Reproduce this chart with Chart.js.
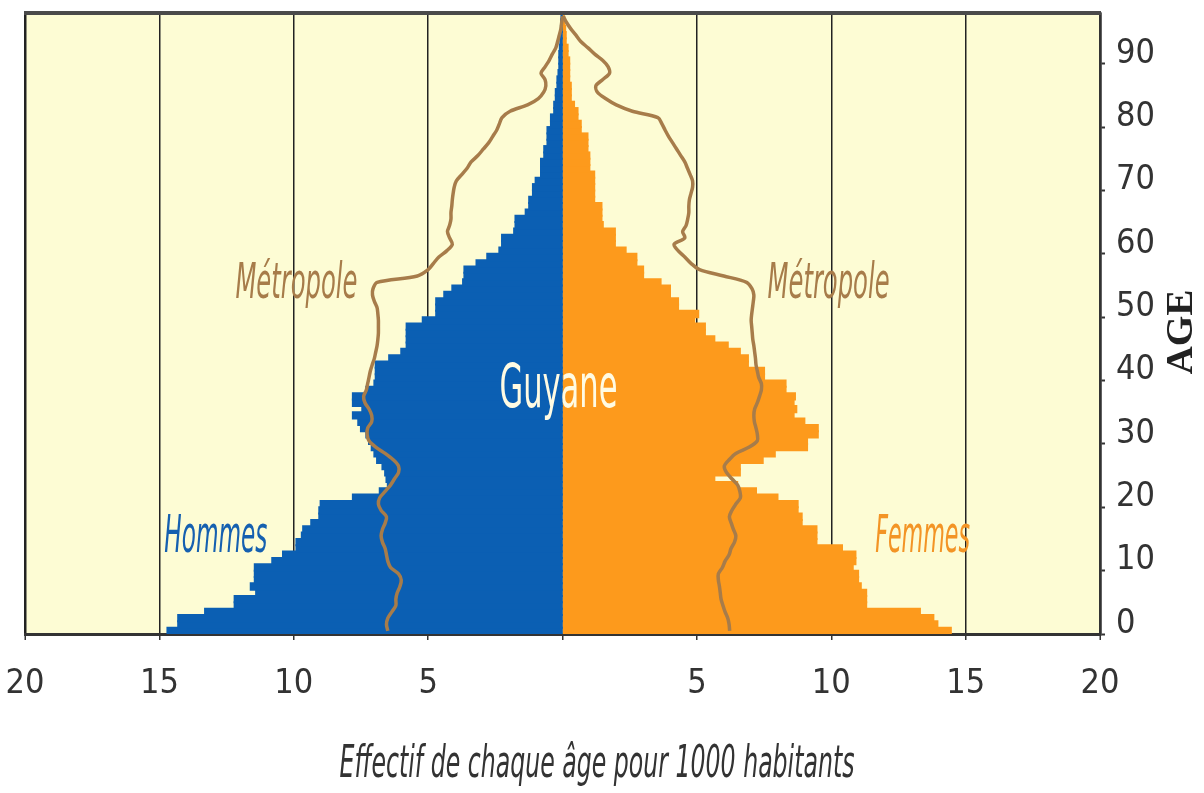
<!DOCTYPE html>
<html lang="fr">
<head>
<meta charset="utf-8">
<title>Pyramide des âges – Guyane et Métropole</title>
<script src="https://cdn.jsdelivr.net/npm/chart.js@4.4.1/dist/chart.umd.min.js"></script>
<style>
  html, body { margin: 0; padding: 0; background: #ffffff; }
  #wrap { width: 1204px; height: 793px; }
</style>
</head>
<body>
<div id="wrap"><canvas id="pyramide" width="1204" height="793"></canvas></div>
<script>
// Âges (une barre par année)
const ages = [
  0, 1, 2, 3, 4, 5, 6, 7, 8, 9, 10, 11, 12, 13, 14, 15, 16, 17, 18, 19,
  20, 21, 22, 23, 24, 25, 26, 27, 28, 29, 30, 31, 32, 33, 34, 35, 36, 37, 38, 39,
  40, 41, 42, 43, 44, 45, 46, 47, 48, 49, 50, 51, 52, 53, 54, 55, 56, 57, 58, 59,
  60, 61, 62, 63, 64, 65, 66, 67, 68, 69, 70, 71, 72, 73, 74, 75, 76, 77, 78, 79,
  80, 81, 82, 83, 84, 85, 86, 87, 88, 89, 90, 91, 92, 93, 94, 95, 96, 97
];

// Guyane : effectif de chaque âge pour 1000 habitants
const guyaneHommes = [
  14.7, 14.3, 14.3, 13.3, 12.2, 12.2, 11.4, 11.6, 11.45, 11.45,
  11.45, 10.8, 10.4, 9.9, 9.9, 9.7, 9.65, 9.35, 9.05, 9.05,
  9.0, 7.8, 6.8, 6.5, 6.55, 6.6, 6.7, 6.9, 7.0, 7.1,
  7.2, 7.3, 7.5, 7.6, 7.8, 7.45, 7.8, 7.8, 7.3, 7.0,
  6.95, 6.95, 6.95, 6.45, 6.0, 5.8, 5.8, 5.8, 5.8, 5.2,
  4.7, 4.7, 4.7, 4.4, 4.1, 3.7, 3.65, 3.65, 3.2, 2.8,
  2.35, 2.25, 2.25, 1.8, 1.75, 1.75, 1.37, 1.24, 1.24, 1.1,
  1.1, 1.0, 0.8, 0.8, 0.8, 0.68, 0.68, 0.56, 0.56, 0.56,
  0.43, 0.43, 0.31, 0.31, 0.25, 0.25, 0.19, 0.19, 0.15, 0.12,
  0.12, 0.12, 0.1, 0.08, 0.06, 0.06, 0.05, 0.04
];
const guyaneFemmes = [
  14.45, 13.95, 13.8, 13.3, 11.3, 11.3, 11.3, 11.1, 11.0, 11.0,
  10.8, 10.9, 10.9, 10.4, 9.45, 9.45, 9.45, 8.9, 8.9, 8.75,
  8.75, 8.0, 7.2, 6.5, 5.65, 6.6, 6.6, 7.45, 7.9, 9.1,
  9.1, 9.5, 9.5, 9.0, 8.6, 8.7, 8.6, 8.65, 8.3, 8.3,
  7.5, 7.5, 6.9, 6.9, 6.6, 6.15, 5.65, 5.3, 5.3, 4.9,
  5.05, 4.3, 4.3, 4.0, 4.0, 3.65, 3.0, 3.0, 2.75, 2.75,
  2.35, 1.95, 1.95, 1.95, 1.5, 1.45, 1.45, 1.45, 1.18, 1.18,
  1.18, 1.18, 1.18, 1.0, 1.0, 1.0, 0.93, 0.93, 0.93, 0.68,
  0.68, 0.56, 0.56, 0.43, 0.31, 0.31, 0.31, 0.25, 0.25, 0.25,
  0.25, 0.19, 0.19, 0.12, 0.12, 0.1, 0.06, 0.04
];

// Métropole : profil de comparaison (trait brun)
const metroHommes = [
  6.5, 6.55, 6.5, 6.35, 6.2, 6.2, 6.15, 6.05, 6.0, 6.1,
  6.4, 6.5, 6.55, 6.6, 6.7, 6.75, 6.7, 6.6, 6.55, 6.75,
  6.85, 6.8, 6.6, 6.4, 6.25, 6.1, 6.1, 6.3, 6.6, 6.95,
  7.2, 7.27, 7.25, 7.1, 7.1, 7.2, 7.35, 7.4, 7.3, 7.25,
  7.2, 7.15, 7.08, 7.0, 6.95, 6.9, 6.87, 6.85, 6.85, 6.85,
  6.87, 6.9, 7.0, 7.07, 7.05, 6.9, 5.4, 5.0, 4.8, 4.6,
  4.3, 4.1, 4.2, 4.28, 4.2, 4.15, 4.15, 4.12, 4.1, 4.07,
  4.03, 3.95, 3.75, 3.55, 3.4, 3.15, 2.95, 2.75, 2.6, 2.45,
  2.35, 2.25, 1.95, 1.3, 0.9, 0.7, 0.62, 0.65, 0.8, 0.65,
  0.5, 0.38, 0.25, 0.18, 0.12, 0.06, 0.03, 0
];
const metroFemmes = [
  6.22, 6.2, 6.15, 6.05, 5.97, 5.9, 5.87, 5.84, 5.8, 5.8,
  5.95, 6.05, 6.2, 6.27, 6.4, 6.45, 6.36, 6.28, 6.21, 6.3,
  6.45, 6.62, 6.6, 6.52, 6.3, 6.1, 6.02, 6.2, 6.45, 6.95,
  7.25, 7.25, 7.2, 7.14, 7.12, 7.15, 7.25, 7.33, 7.4, 7.4,
  7.3, 7.25, 7.2, 7.18, 7.15, 7.12, 7.08, 7.06, 7.04, 7.02,
  7.04, 7.07, 7.1, 7.12, 7.05, 6.85, 6.0, 5.1, 4.78, 4.55,
  4.3, 4.15, 4.55, 4.47, 4.6, 4.66, 4.7, 4.7, 4.72, 4.78,
  4.84, 4.84, 4.75, 4.65, 4.55, 4.4, 4.25, 4.1, 3.95, 3.82,
  3.7, 3.55, 2.6, 2.0, 1.6, 1.3, 1.24, 1.5, 1.75, 1.7,
  1.5, 1.2, 0.95, 0.68, 0.5, 0.31, 0.15, 0.03
];

// Graduations
const xTicks = [-20, -15, -10, -5, 0, 5, 10, 15, 20];
const xTickLabels = ["20", "15", "10", "5", "", "5", "10", "15", "20"];
const ageTicks = [0, 10, 20, 30, 40, 50, 60, 70, 80, 90];

const BLEU = "#0b5fb3";
const ORANGE = "#fd9a1c";
const BRUN = "#a77c4a";
const NARROW = '"Liberation Sans Narrow", "DejaVu Sans Condensed", "Open Sans", sans-serif';

// texte compressé horizontalement pour approcher la police condensée d'origine
function drawFitText(ctx, text, x, y, width, font, color, angle) {
  ctx.save();
  ctx.font = font;
  const w = ctx.measureText(text).width;
  ctx.translate(x, y);
  if (angle) ctx.rotate(angle);
  ctx.scale(width / w, 1);
  ctx.textAlign = "center";
  ctx.textBaseline = "alphabetic";
  ctx.fillStyle = color;
  ctx.fillText(text, 0, 0);
  ctx.restore();
}

const decor = {
  id: "decor",
  beforeDraw(chart) {
    const { ctx, chartArea: a } = chart;
    ctx.save();
    ctx.fillStyle = "#ffffff";
    ctx.fillRect(0, 0, chart.width, chart.height);
    ctx.fillStyle = "#fdfcd4";
    ctx.fillRect(a.left, a.top, a.right - a.left, a.bottom - a.top);
    ctx.restore();
  },
  afterDatasetsDraw(chart) {
    const { ctx, chartArea: a } = chart;
    const sx = chart.scales.x;
    const sy = chart.scales.yAge;

    // cadre supérieur
    ctx.save();
    ctx.strokeStyle = "#4a4a4a";
    ctx.lineWidth = 4;
    ctx.beginPath();
    ctx.moveTo(a.left - 1, a.top);
    ctx.lineTo(a.right + 1, a.top);
    ctx.stroke();
    ctx.restore();

    drawFitText(ctx, "Guyane", sx.getPixelForValue(-0.15), sy.getPixelForValue(35.8), 118,
      "60px " + NARROW, "#fffbe3");
    drawFitText(ctx, "Métropole", sx.getPixelForValue(-9.9), sy.getPixelForValue(53.0), 122,
      "italic 50px " + NARROW, BRUN);
    drawFitText(ctx, "Métropole", sx.getPixelForValue(9.9), sy.getPixelForValue(53.0), 122,
      "italic 50px " + NARROW, BRUN);
    drawFitText(ctx, "Hommes", sx.getPixelForValue(-12.9), sy.getPixelForValue(12.9), 103,
      "italic 52px " + NARROW, "#1560b0");
    drawFitText(ctx, "Femmes", sx.getPixelForValue(13.4), sy.getPixelForValue(12.9), 95,
      "italic 52px " + NARROW, "#f39425");

    // titres des axes
    drawFitText(ctx, "Effectif de chaque âge pour 1000 habitants", 597, 777, 515,
      "italic 44px " + NARROW, "#333333");
    drawFitText(ctx, "AGE", 1192, 332, 85,
      'bold 38px "Liberation Serif", "DejaVu Serif", serif', "#222222", -Math.PI / 2);
  }
};

const tickFont = { family: NARROW, size: 34 };

new Chart(document.getElementById("pyramide"), {
  data: {
    labels: ages,
    datasets: [
      {
        type: "line", label: "Métropole hommes", indexAxis: "y",
        data: metroHommes.map(v => -v), xAxisID: "x", yAxisID: "y",
        borderColor: BRUN, borderWidth: 3.5, pointRadius: 0, tension: 0.3, fill: false, order: 0
      },
      {
        type: "line", label: "Métropole femmes", indexAxis: "y",
        data: metroFemmes, xAxisID: "x", yAxisID: "y",
        borderColor: BRUN, borderWidth: 3.5, pointRadius: 0, tension: 0.3, fill: false, order: 0
      },
      {
        type: "bar", label: "Hommes", data: guyaneHommes.map(v => -v),
        xAxisID: "x", yAxisID: "y", backgroundColor: BLEU, borderWidth: 0, inflateAmount: 1,
        grouped: false, barPercentage: 1, categoryPercentage: 1, order: 1
      },
      {
        type: "bar", label: "Femmes", data: guyaneFemmes,
        xAxisID: "x", yAxisID: "y", backgroundColor: ORANGE, borderWidth: 0, inflateAmount: 1,
        grouped: false, barPercentage: 1, categoryPercentage: 1, order: 1
      }
    ]
  },
  options: {
    indexAxis: "y",
    responsive: false,
    animation: false,
    layout: { padding: { left: 25, top: 13, right: 0, bottom: 0 } },
    plugins: { legend: { display: false }, tooltip: { enabled: false } },
    scales: {
      x: {
        type: "linear", min: -20, max: 20,
        afterBuildTicks: s => { s.ticks = xTicks.map(v => ({ value: v })); },
        afterFit: s => { s.height = 159; s.paddingLeft = 0; s.paddingRight = 0; },
        ticks: {
          autoSkip: false, font: tickFont, color: "#333333", padding: 24,
          callback: (v, i) => xTickLabels[i]
        },
        grid: {
          color: c => (c.tick && c.tick.value === 0 ? "rgba(0,0,0,0)" : "#222222"),
          lineWidth: c => (c.tick && Math.abs(c.tick.value) === 20 ? 2.5 : 1.5),
          drawTicks: true, tickLength: 6, tickColor: "#333333", tickWidth: 1.5
        },
        border: { display: true, color: "#333333", width: 3 }
      },
      y: { type: "category", reverse: true, display: false, offset: true },
      yAge: {
        type: "linear", position: "right", min: 0, max: 98,
        afterBuildTicks: s => { s.ticks = ageTicks.map(v => ({ value: v })); },
        afterFit: s => { s.width = 104; s.paddingTop = 0; s.paddingBottom = 0; },
        ticks: { autoSkip: false, font: tickFont, color: "#333333", padding: 11, labelOffset: -10 },
        grid: { drawOnChartArea: false, drawTicks: true, tickLength: 5, tickColor: "#333333", tickWidth: 2 },
        border: { display: true, color: "#333333", width: 2.5 }
      }
    }
  },
  plugins: [decor]
});
</script>
</body>
</html>
